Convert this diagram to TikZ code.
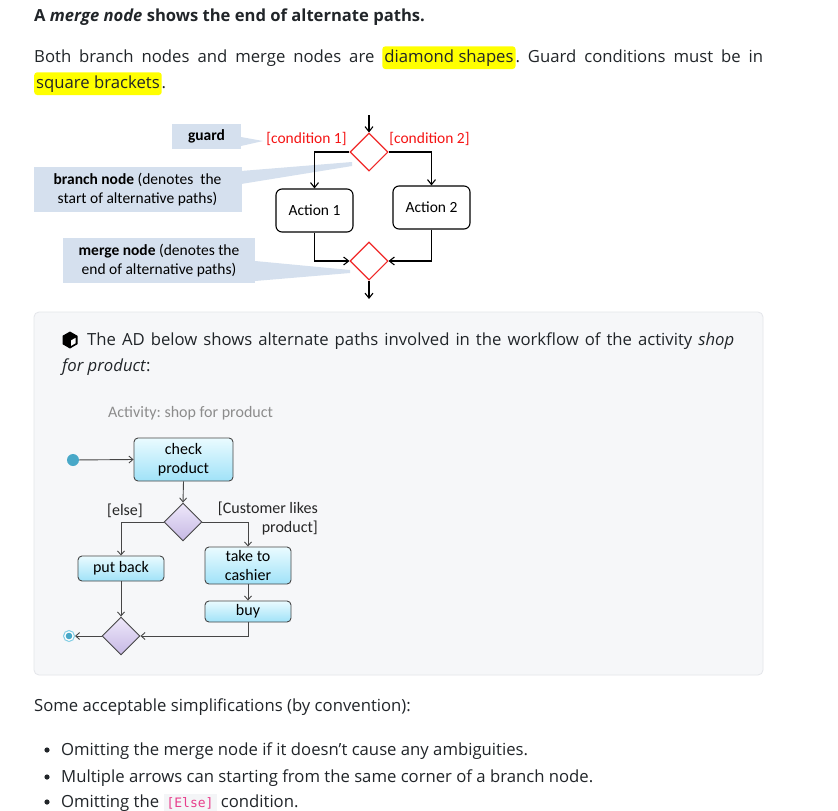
\documentclass[tikz,border=0pt]{standalone}
\usepackage{fontspec}
\setmainfont{Open Sans}
\newfontfamily\diag{Carlito}
\newfontfamily\codefont{DejaVu Sans Mono}
\usetikzlibrary{shapes.geometric,arrows.meta,calc}
\frenchspacing
\definecolor{hlyellow}{RGB}{255,255,0}
\definecolor{callblue}{RGB}{213,224,238}
\definecolor{redline}{RGB}{240,40,40}
\definecolor{redtext}{RGB}{245,20,20}
\definecolor{panelgray}{RGB}{246,247,249}
\definecolor{panelborder}{RGB}{228,230,234}
\definecolor{cyantop}{RGB}{234,251,255}
\definecolor{cyanbot}{RGB}{160,226,248}
\definecolor{purtop}{RGB}{238,232,250}
\definecolor{purbot}{RGB}{198,184,228}
\definecolor{initblue}{RGB}{72,168,200}
\definecolor{ringblue}{RGB}{130,205,228}
\definecolor{darkline}{RGB}{70,70,70}
\definecolor{labelgray}{RGB}{140,140,140}
\definecolor{codepink}{RGB}{232,62,140}
\definecolor{codebg}{RGB}{244,245,247}
\definecolor{bodytext}{RGB}{33,37,41}
\newcommand{\hlbox}[1]{\tikz[baseline=(hx.base)]\node[fill=hlyellow,rounded corners=3pt,inner xsep=2pt,inner ysep=3pt,outer sep=0pt] (hx) {#1};}
\begin{document}
\begin{tikzpicture}[x=1pt,y=-1pt,
  bodyfont/.style={font=\fontsize{16.7}{20}\selectfont, text=bodytext},
  callout/.style={fill=callblue, inner sep=0pt, align=center, font=\diag\fontsize{15.5}{19}\selectfont},
  reddiamond/.style={diamond, draw=redline, fill=white, line width=1.1pt, minimum width=38pt, minimum height=38pt, inner sep=0pt},
  action/.style={draw=black, fill=white, rounded corners=6pt, line width=1.1pt, inner sep=0pt, font=\diag\fontsize{15.5}{19}\selectfont},
  arr/.style={draw=black, line width=1.1pt, -{Straight Barb[length=5pt,width=8pt]}},
  act2/.style={draw=darkline, line width=0.9pt, rounded corners=4pt, top color=cyantop, bottom color=cyanbot, inner sep=0pt, align=center, font=\diag\fontsize{16}{19}\selectfont},
  pdiamond/.style={diamond, draw=darkline, line width=0.9pt, top color=purtop, bottom color=purbot, minimum width=38pt, minimum height=38pt, inner sep=0pt},
  arr2/.style={draw=darkline, line width=0.9pt, -{Straight Barb[length=4pt,width=7pt]}},
  lbl2/.style={inner sep=0pt, font=\diag\fontsize{16}{19}\selectfont, text=black!85}
]
\useasboundingbox (0,0) rectangle (838,811);
\fill[white] (0,0) rectangle (838,811);

% ---------- heading and paragraph ----------
\node[bodyfont, anchor=base west, inner sep=0pt, font=\fontsize{16.6}{20}\selectfont\bfseries] (title) at (34,21)
  {A \textit{merge node} shows the end of alternate paths.};
\node[bodyfont, anchor=base west, inner sep=0pt] (p1) at (34,62)
  {\makebox[729pt][s]{Both branch nodes and merge nodes are \hlbox{diamond shapes}. Guard conditions must be in}};
\node[bodyfont, anchor=base west, inner sep=0pt] (p2) at (34,88) {\hlbox{square brackets}.};

% ---------- diagram 1: callouts ----------
\node[callout, minimum width=69pt, minimum height=25pt, font=\diag\bfseries\fontsize{15.5}{19}\selectfont] (guard) at (206.5,136.5) {guard};
\coordinate (gtip) at (263,141);
\fill[callblue] (241,137) -- (gtip) -- (241,146) -- cycle;
\node[callout, minimum width=208pt, minimum height=45pt] (branch) at (137.5,189.5)
  {\textbf{branch node} (denotes\ \ the\\start of alternative paths)};
\coordinate (btip1) at (352,162);
\coordinate (btip2) at (352,166);
\fill[callblue] (241,171) -- (btip1) -- (btip2) -- (241,184) -- cycle;
\node[callout, minimum width=192pt, minimum height=45pt] (merge) at (159,260.5)
  {\textbf{merge node} (denotes the\\end of alternative paths)};
\coordinate (mtip1) at (350,270);
\coordinate (mtip2) at (350,273);
\fill[callblue] (255,261) -- (mtip1) -- (mtip2) -- (255,281) -- cycle;

% ---------- diagram 1: flow ----------
\coordinate (top) at (369,115);
\node[reddiamond] (b1) at (369,152) {};
\draw[arr] (top) -- (b1.north);
\node[inner sep=0pt, text=redtext, font=\diag\fontsize{15.5}{19}\selectfont] (c1) at (306.5,139) {[condition 1]};
\node[inner sep=0pt, text=redtext, font=\diag\fontsize{15.5}{19}\selectfont] (c2) at (429.5,139) {[condition 2]};
\node[action, minimum width=77pt, minimum height=43pt] (a1) at (314.5,210.5) {Action 1};
\node[action, minimum width=77pt, minimum height=43pt] (a2) at (431.5,207.5) {Action 2};
\draw[arr] (b1.west) -| (a1.north);
\draw[arr] (b1.east) -| (a2.north);
\node[reddiamond] (m1) at (369,261) {};
\draw[arr] (a1.south) |- (m1.west);
\draw[arr] (a2.south) |- (m1.east);
\coordinate (bot) at (369,299);
\draw[arr] (m1.south) -- (bot);

% ---------- panel ----------
\draw[draw=panelborder, fill=panelgray, rounded corners=5pt, line width=0.8pt] (34,312) rectangle (763,675);
% icon (box)
\coordinate (ic) at (70,340);
\fill[black] ($(ic)+(0,-8.5)$) -- ($(ic)+(7.5,-4.2)$) -- ($(ic)+(7.5,4.2)$) -- ($(ic)+(0,8.5)$) -- ($(ic)+(-7.5,4.2)$) -- ($(ic)+(-7.5,-4.2)$) -- cycle;
\fill[white] ($(ic)+(1.2,0.3)$) -- ($(ic)+(5.6,-2.2)$) -- ($(ic)+(5.6,3.2)$) -- ($(ic)+(1.2,5.8)$) -- cycle;
\node[bodyfont, anchor=base west, inner sep=0pt] (q1) at (87,345)
  {\makebox[647pt][s]{The AD below shows alternate paths involved in the workflow of the activity \textit{shop}}};
\node[bodyfont, anchor=base west, inner sep=0pt] (q2) at (62,371) {\textit{for product}:};

% ---------- diagram 2 ----------
\node[anchor=base west, inner sep=0pt, text=labelgray, font=\diag\fontsize{16}{19}\selectfont] (actlbl) at (108,417.5) {Activity: shop for product};
\node[circle, fill=initblue, minimum size=12pt, inner sep=0pt] (i0) at (73,460) {};
\node[act2, minimum width=99pt, minimum height=43pt] (cp) at (183.5,459.5) {check\\product};
\draw[arr2] (i0) -- (cp.west);
\node[pdiamond] (d2) at (183,522) {};
\draw[arr2] (cp.south) -- (d2.north);
\node[act2, minimum width=86pt, minimum height=25pt] (pb) at (121,568.5) {put back};
\node[act2, minimum width=86pt, minimum height=37pt] (tc) at (248,565.5) {take to\\cashier};
\node[act2, minimum width=86pt, minimum height=21pt] (buy) at (248,611.5) {buy};
\draw[arr2] (d2.west) -| (pb.north);
\draw[arr2] (d2.east) -| (tc.north);
\draw[arr2] (tc.south) -- (buy.north);
\node[pdiamond] (m2) at (121,636) {};
\draw[arr2] (pb.south) -- (m2.north);
\draw[arr2] (buy.south) |- (m2.east);
\node[circle, draw=ringblue, fill=white, line width=1pt, minimum size=11pt, inner sep=0pt] (f0) at (69,636) {};
\fill[initblue] (f0.center) circle (3.3pt);
\draw[arr2] (m2.west) -- (f0.east);
\node[lbl2] (elselbl) at (125,511) {[else]};
\node[lbl2, anchor=north east, align=right] (likes) at (318,502) {[Customer likes\\product]};

% ---------- bottom text ----------
\node[bodyfont, anchor=base west, inner sep=0pt] (simp) at (34,711) {Some acceptable simplifications (by convention):};
\fill[bodytext] (47,750) circle (2.6pt);
\fill[bodytext] (47,777) circle (2.6pt);
\fill[bodytext] (47,802) circle (2.6pt);
\node[bodyfont, anchor=base west, inner sep=0pt] (li1) at (61,755) {Omitting the merge node if it doesn't cause any ambiguities.};
\node[bodyfont, anchor=base west, inner sep=0pt] (li2) at (61,782) {Multiple arrows can starting from the same corner of a branch node.};
\node[bodyfont, anchor=base west, inner sep=0pt] (li3) at (61,807)
  {Omitting the {\setlength{\fboxsep}{3pt}\colorbox{codebg}{\codefont\fontsize{13}{13}\selectfont\textcolor{codepink}{[Else]}}} condition.};
\end{tikzpicture}
\end{document}
